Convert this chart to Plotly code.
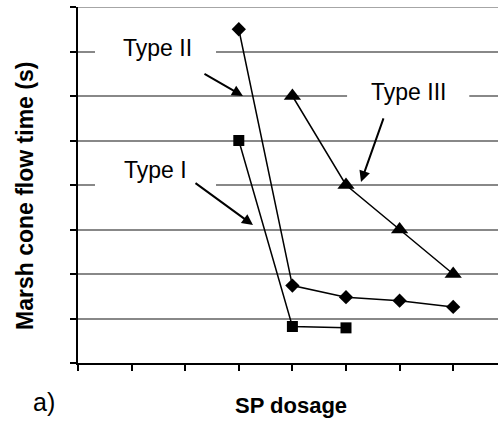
import plotly.graph_objects as go

# SP dosage steps (category index along the x axis) and Marsh cone flow times
type1_x = [3, 4, 5]
type1_y = [5.0, 0.82, 0.79]
type2_x = [3, 4, 5, 6, 7]
type2_y = [7.5, 1.74, 1.48, 1.40, 1.26]
type3_x = [4, 5, 6, 7]
type3_y = [6.0, 4.0, 3.0, 2.0]

x_ticks = list(range(0, 8))
y_ticks = list(range(0, 9))

W, H = 498, 421
ML, MR, MT, MB = 78, 0, 7, 58
PW, PH = W - ML - MR, H - MT - MB


def px(x, y):
    """Pixel position -> paper coordinates."""
    return (x - ML) / PW, (H - MB - y) / PH


FONT = "Liberation Sans, Arial, sans-serif"
line_style = dict(color="black", width=1.5)
GRID = "#888888"

fig = go.Figure()
fig.add_trace(go.Scatter(x=type1_x, y=type1_y, mode="lines+markers", name="Type I",
                         line=line_style,
                         marker=dict(symbol="square", size=11, color="black")))
fig.add_trace(go.Scatter(x=type2_x, y=type2_y, mode="lines+markers", name="Type II",
                         line=line_style,
                         marker=dict(symbol="diamond", size=11, color="black")))
fig.add_trace(go.Scatter(x=type3_x, y=type3_y, mode="lines+markers", name="Type III",
                         line=line_style,
                         marker=dict(symbol="triangle-up", size=15, color="black")))

# top gridline sits on the range edge, draw it explicitly
fig.add_shape(type="line", xref="paper", yref="y", x0=0, x1=1, y0=y_ticks[-1], y1=y_ticks[-1],
              line=dict(color=GRID, width=1.6), layer="below")

# white patches that interrupt the gridlines behind the series labels
masks = [(0.317, 2.575, 7), (0.317, 2.575, 4), (5.02, 7.3, 6)]
for x0, x1, yc in masks:
    fig.add_shape(type="rect", xref="x", yref="y", x0=x0, x1=x1, y0=yc - 0.08, y1=yc + 0.08,
                  fillcolor="white", line=dict(width=0), layer="above")

labels = [("Type II", 1.474, 7.08), ("Type I", 1.455, 4.33), ("Type III", 6.16, 6.09)]
for text, x, y in labels:
    fig.add_annotation(x=x, y=y, xref="x", yref="y", text=text, showarrow=False,
                       xanchor="center", yanchor="middle",
                       font=dict(family=FONT, size=23, color="black"))

# pointers: (tip x, tip y, tail offset dx, dy in pixels)
arrows = [(3.265, 3.10, -59, -43), (3.078, 6.0, -40, -23), (5.28, 4.07, 23, -65)]
for x, y, ax, ay in arrows:
    fig.add_annotation(x=x, y=y, xref="x", yref="y", ax=ax, ay=ay, text="",
                       showarrow=True, arrowhead=2, arrowsize=1.1, arrowwidth=2,
                       arrowcolor="black", standoff=0, startstandoff=0)

ax_, ay_ = px(25, 196)
fig.add_annotation(x=ax_, y=ay_, xref="paper", yref="paper", text="<b>Marsh cone flow time (s)</b>",
                   textangle=-90, showarrow=False, xanchor="center", yanchor="middle",
                   font=dict(family=FONT, size=23, color="black"))
sx, sy = px(291, 405)
fig.add_annotation(x=sx, y=sy, xref="paper", yref="paper", text="<b>SP dosage</b>",
                   showarrow=False, xanchor="center", yanchor="middle",
                   font=dict(family=FONT, size=22, color="black"))
lx, ly = px(44, 402)
fig.add_annotation(x=lx, y=ly, xref="paper", yref="paper", text="a)",
                   showarrow=False, xanchor="center", yanchor="middle",
                   font=dict(family=FONT, size=25, color="black"))

fig.update_xaxes(range=[0, PW / 53.6], tickvals=x_ticks, showticklabels=False,
                 ticks="outside", ticklen=6, tickwidth=1.5, tickcolor="black",
                 showline=True, linecolor="black", linewidth=1.5,
                 showgrid=False, zeroline=False, fixedrange=True)
fig.update_yaxes(range=[0, 8], tickvals=y_ticks, showticklabels=False,
                 ticks="outside", ticklen=6, tickwidth=1.5, tickcolor="black",
                 showline=True, linecolor="black", linewidth=1.5,
                 showgrid=True, gridcolor=GRID, gridwidth=1.6,
                 zeroline=False, fixedrange=True)

fig.update_layout(width=W, height=H, margin=dict(l=ML, r=MR, t=MT, b=MB),
                  paper_bgcolor="white", plot_bgcolor="white", showlegend=False)

fig.write_html("out.html")
